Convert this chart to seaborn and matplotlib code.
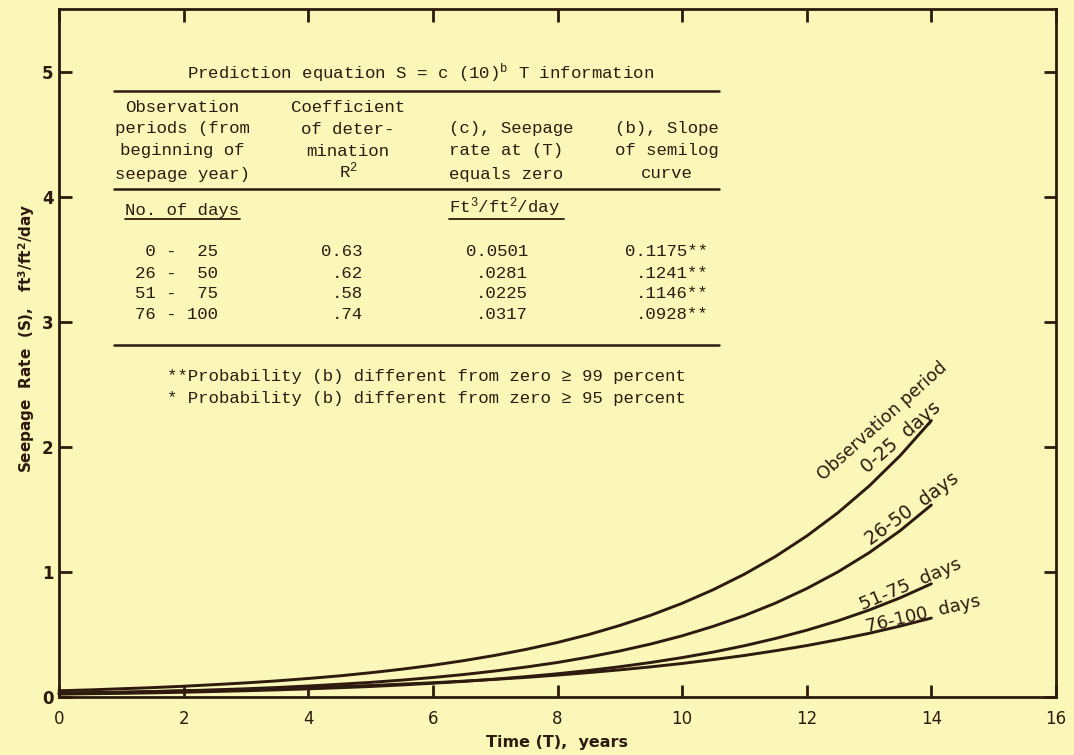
import numpy as np
import pandas as pd
import matplotlib
matplotlib.use("Agg")
import matplotlib.pyplot as plt
from matplotlib.lines import Line2D
import seaborn as sns

# ---------------- data ----------------
years = [0, 0.5, 1, 1.5, 2, 2.5, 3, 3.5, 4, 4.5, 5, 5.5, 6, 6.5, 7, 7.5,
         8, 8.5, 9, 9.5, 10, 10.5, 11, 11.5, 12, 12.5, 13, 13.5, 14]
s_0_25 = [0.050, 0.057, 0.066, 0.075, 0.086, 0.099, 0.113, 0.129, 0.148, 0.169,
          0.194, 0.222, 0.254, 0.291, 0.333, 0.381, 0.436, 0.499, 0.572, 0.654,
          0.749, 0.858, 0.982, 1.124, 1.287, 1.473, 1.686, 1.930, 2.210]
s_26_50 = [0.028, 0.032, 0.037, 0.043, 0.050, 0.057, 0.066, 0.076, 0.088, 0.102,
           0.117, 0.135, 0.156, 0.180, 0.208, 0.240, 0.276, 0.319, 0.368, 0.424,
           0.489, 0.565, 0.651, 0.751, 0.867, 1.000, 1.153, 1.330, 1.535]
s_51_75 = [0.0225, 0.026, 0.029, 0.033, 0.038, 0.044, 0.050, 0.057, 0.065, 0.074,
           0.084, 0.096, 0.110, 0.125, 0.143, 0.163, 0.186, 0.212, 0.242, 0.276,
           0.315, 0.359, 0.410, 0.468, 0.534, 0.609, 0.695, 0.793, 0.905]
s_76_100 = [0.032, 0.035, 0.039, 0.044, 0.049, 0.054, 0.060, 0.067, 0.075, 0.083,
            0.092, 0.103, 0.114, 0.127, 0.141, 0.157, 0.175, 0.195, 0.217, 0.241,
            0.268, 0.299, 0.332, 0.370, 0.411, 0.458, 0.509, 0.567, 0.631]

series_names = ["0-25", "26-50", "51-75", "76-100"]

tbl_periods = [" 0 -  25", "26 -  50", "51 -  75", "76 - 100"]
tbl_r2 = ["0.63", ".62", ".58", ".74"]
tbl_c = ["0.0501", ".0281", ".0225", ".0317"]
tbl_b = ["0.1175**", ".1241**", ".1146**", ".0928**"]

x_ticks = [0, 2, 4, 6, 8, 10, 12, 14, 16]
y_ticks = [0, 1, 2, 3, 4, 5]

# ---------------- style ----------------
BG = "#fbf7b9"
INK = "#2e1a0e"
W, H = 1074, 755

sns.set_theme(style="ticks")
plt.rcParams["font.family"] = ["DejaVu Sans"]
plt.rcParams["axes.facecolor"] = BG
plt.rcParams["figure.facecolor"] = BG
plt.rcParams["mathtext.fontset"] = "custom"
plt.rcParams["mathtext.rm"] = "Liberation Mono"
plt.rcParams["mathtext.it"] = "Liberation Mono"
plt.rcParams["mathtext.bf"] = "DejaVu Sans:bold"

fig = plt.figure(figsize=(W / 100, H / 100), dpi=100)
ax = fig.add_axes([59 / W, 1 - 697 / H, (1056 - 59) / W, (697 - 9) / H])

df = pd.DataFrame({
    "T": years * 4,
    "S": s_0_25 + s_26_50 + s_51_75 + s_76_100,
    "period": sum([[n] * len(years) for n in series_names], []),
})
sns.lineplot(data=df, x="T", y="S", hue="period",
             palette={n: INK for n in series_names}, legend=False,
             linewidth=2.1, ax=ax, clip_on=False)

ax.set_xlim(0, 16)
ax.set_ylim(0, 5.5)
ax.set_xticks(x_ticks)
ax.set_yticks(y_ticks)
ax.set_xticklabels([str(t) for t in x_ticks], fontsize=12, color=INK)
ax.set_yticklabels([str(t) for t in y_ticks], fontsize=12, color=INK, fontweight="bold")
ax.tick_params(direction="in", length=9, width=2, color=INK, top=True, right=True)
ax.tick_params(axis="x", pad=9)
ax.tick_params(axis="y", pad=4)
for sp in ax.spines.values():
    sp.set_visible(True)
    sp.set_color(INK)
    sp.set_linewidth(2)

ax.set_xlabel("Time (T),  years", fontsize=11.5, fontweight="bold", color=INK)
ax.xaxis.label.set_va("center")
ax.xaxis.set_label_coords(0.5, -0.066)
ax.set_ylabel(r"Seepage  Rate  (S),   ft$^{\mathbf{3}}$/ft$^{\mathbf{2}}$/day",
              fontsize=11, fontweight="bold", color=INK)
ax.yaxis.label.set_va("center")
ax.yaxis.set_label_coords(-0.033, 0.522)

# curve labels
lab_kw = dict(color=INK, ha="center", va="center", rotation_mode="anchor")
def dpos(px, py):
    return ((px - 59) / (1056 - 59) * 16, (697 - py) / (697 - 9) * 5.5)
ax.text(*dpos(882, 421), "Observation period", rotation=42, fontsize=12.5, **lab_kw)
ax.text(*dpos(901, 437), "0-25  days", rotation=41, fontsize=13.5, **lab_kw)
ax.text(*dpos(912, 509), "26-50  days", rotation=36, fontsize=13.5, **lab_kw)
ax.text(*dpos(910, 584), "51-75  days", rotation=23, fontsize=13.2, **lab_kw)
ax.text(*dpos(923, 614), "76-100  days", rotation=13, fontsize=13, **lab_kw)

# ---------------- table ----------------
MONO = ["Liberation Mono", "DejaVu Sans Mono"]
tk = dict(family=MONO, fontsize=12.5, color=INK, va="center")

def fx(px):
    return px / W

def fy(py):
    return 1 - py / H

def hline(y, x0=114, x1=719, lw=1.8):
    fig.add_artist(Line2D([fx(x0), fx(x1)], [fy(y), fy(y)], color=INK, lw=lw,
                          transform=fig.transFigure))

fig.text(fx(421), fy(73), r"Prediction equation S = c (10)$^{\mathrm{b}}$ T information",
         ha="center", **tk)
hline(91)

col1 = ["Observation", "periods (from", "beginning of", "seepage year)"]
col2 = ["Coefficient", "of deter-", "mination", r"R$^{2}$"]
col3 = ["(c), Seepage", "rate at (T)", "equals zero"]
col4 = ["(b), Slope", "of semilog", "curve"]
rows_y = [108, 129, 151, 174]
for i, t in enumerate(col1):
    fig.text(fx(182), fy(rows_y[i]), t, ha="center", **tk)
for i, t in enumerate(col2):
    fig.text(fx(348), fy(rows_y[i] - (3 if i == 3 else 0)), t, ha="center", **tk)
for i, t in enumerate(col3):
    fig.text(fx(449), fy(rows_y[i + 1]), t, ha="left", **tk)
for i, t in enumerate(col4):
    fig.text(fx(667), fy(rows_y[i + 1]), t, ha="center", **tk)
hline(189)

fig.text(fx(125), fy(210), "No. of days", ha="left", **tk)
hline(219, 125, 240, lw=1.3)
fig.text(fx(449), fy(207), r"Ft$^{3}$/ft$^{2}$/day", ha="left", **tk)
hline(219, 449, 564, lw=1.3)

data_y = [252, 273, 293, 314]
for i in range(4):
    fig.text(fx(218), fy(data_y[i]), tbl_periods[i], ha="right", **tk)
    fig.text(fx(363), fy(data_y[i]), tbl_r2[i], ha="right", **tk)
    fig.text(fx(528), fy(data_y[i]), tbl_c[i], ha="right", **tk)
    fig.text(fx(708), fy(data_y[i]), tbl_b[i], ha="right", **tk)
hline(345)

fig.text(fx(167), fy(377), "**Probability (b) different from zero \u2265 99 percent", ha="left", **tk)
fig.text(fx(167), fy(398), "* Probability (b) different from zero \u2265 95 percent", ha="left", **tk)

fig.savefig("out.png", dpi=100, facecolor=BG)
